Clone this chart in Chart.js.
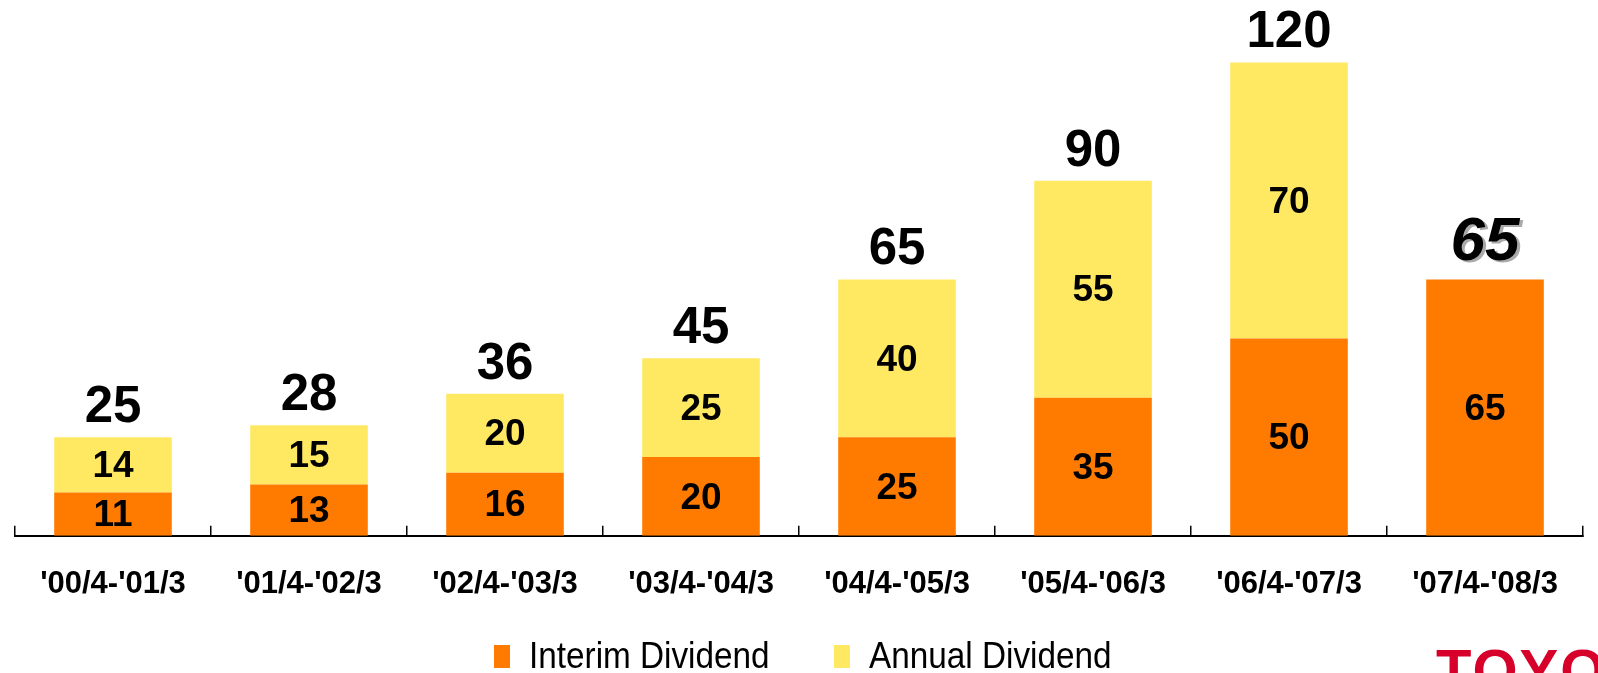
<!DOCTYPE html>
<html>
<head>
<meta charset="utf-8">
<script src="https://cdn.jsdelivr.net/npm/chart.js@4.4.1/dist/chart.umd.min.js"></script>
<style>
  html, body { margin: 0; padding: 0; background: #fff; overflow: hidden; }
  #wrap { position: relative; width: 1598px; height: 673px; }
  #legend { position: absolute; left: 494px; top: 632px; font-family: "Liberation Sans", Arial, sans-serif; font-size: 37px; color: #000; white-space: nowrap; }
  .item { position: absolute; top: 0; }
  .box { position: absolute; top: 13px; width: 16px; height: 23px; }
  .txt { position: absolute; left: 35px; top: 0; transform: scaleX(0.9); transform-origin: left top; line-height: 48px; }
  #logo { position: absolute; left: 1436px; top: 640px; font-family: "Liberation Sans", Arial, sans-serif; font-weight: bold; font-size: 58px; color: #d6002a; letter-spacing: 2px; line-height: 60px; }
</style>
</head>
<body>
<div id="wrap">
  <canvas id="myChart"></canvas>
  <div id="legend"></div>
  <div id="logo">TOYOTA</div>
</div>
<script>
const categories = ["'00/4-'01/3", "'01/4-'02/3", "'02/4-'03/3", "'03/4-'04/3", "'04/4-'05/3", "'05/4-'06/3", "'06/4-'07/3", "'07/4-'08/3"];
const interim = [11, 13, 16, 20, 25, 35, 50, 65];
const annual = [14, 15, 20, 25, 40, 55, 70, null];
const forecastIndex = 7;

const orange = '#ff7b00';
const yellow = '#ffe963';
const fontFamily = '"Liberation Sans", Arial, sans-serif';

const valueLabels = {
  id: 'valueLabels',
  afterDatasetsDraw(chart) {
    const ctx = chart.ctx;
    ctx.save();
    ctx.fillStyle = '#000';
    ctx.textAlign = 'center';

    // values inside each segment
    ctx.textBaseline = 'middle';
    ctx.font = 'bold 37px ' + fontFamily;
    chart.data.datasets.forEach((ds, di) => {
      chart.getDatasetMeta(di).data.forEach((bar, i) => {
        if (!ds.data[i]) return;
        const p = bar.getProps(['x', 'y', 'base'], true);
        ctx.fillText(ds.data[i], p.x, (p.y + p.base) / 2 + 2);
      });
    });

    // totals above the bars
    const xs = chart.scales.x;
    const ys = chart.scales.y;
    ctx.textBaseline = 'alphabetic';
    categories.forEach((c, i) => {
      const total = interim[i] + (annual[i] || 0);
      const px = xs.getPixelForValue(i);
      const py = ys.getPixelForValue(total);
      if (i === forecastIndex) {
        ctx.font = 'italic bold 62px ' + fontFamily;
        ctx.fillStyle = '#aaa';
        ctx.fillText(total, px + 3, py - 17);
        ctx.fillStyle = '#000';
        ctx.fillText(total, px, py - 19);
      } else {
        ctx.font = 'bold 51px ' + fontFamily;
        ctx.fillText(total, px, py - 15);
      }
    });
    ctx.restore();
  }
};

const chart = new Chart(document.getElementById('myChart'), {
  type: 'bar',
  data: {
    labels: categories,
    datasets: [{
      label: 'Interim Dividend',
      data: interim,
      backgroundColor: orange,
      borderWidth: 0
    }, {
      label: 'Annual Dividend',
      data: annual,
      backgroundColor: yellow,
      borderWidth: 0
    }]
  },
  options: {
    responsive: true,
    maintainAspectRatio: false,
    animation: false,
    layout: { padding: { top: 27, left: 12, right: 5, bottom: 30 } },
    datasets: { bar: { categoryPercentage: 1, barPercentage: 0.6 } },
    plugins: {
      legend: { display: false },
      tooltip: { enabled: false }
    },
    scales: {
      x: {
        stacked: true,
        grid: { offset: true, drawOnChartArea: false, tickLength: -10, color: '#000', lineWidth: 1.5 },
        border: { display: true, color: '#000', width: 2 },
        ticks: {
          color: '#000',
          padding: 40,
          maxRotation: 0,
          autoSkip: false,
          font: { family: fontFamily, size: 31, weight: 'bold' }
        }
      },
      y: {
        stacked: true,
        display: false,
        min: 0,
        max: 129
      }
    }
  },
  plugins: [valueLabels]
});

// legend built from the chart's datasets
const legend = document.getElementById('legend');
const offsets = [0, 340];
chart.data.datasets.forEach((ds, i) => {
  const item = document.createElement('div');
  item.className = 'item';
  item.style.left = offsets[i] + 'px';
  item.innerHTML = '<span class="box" style="background:' + ds.backgroundColor + '"></span><span class="txt">' + ds.label + '</span>';
  legend.appendChild(item);
});
</script>
</body>
</html>
